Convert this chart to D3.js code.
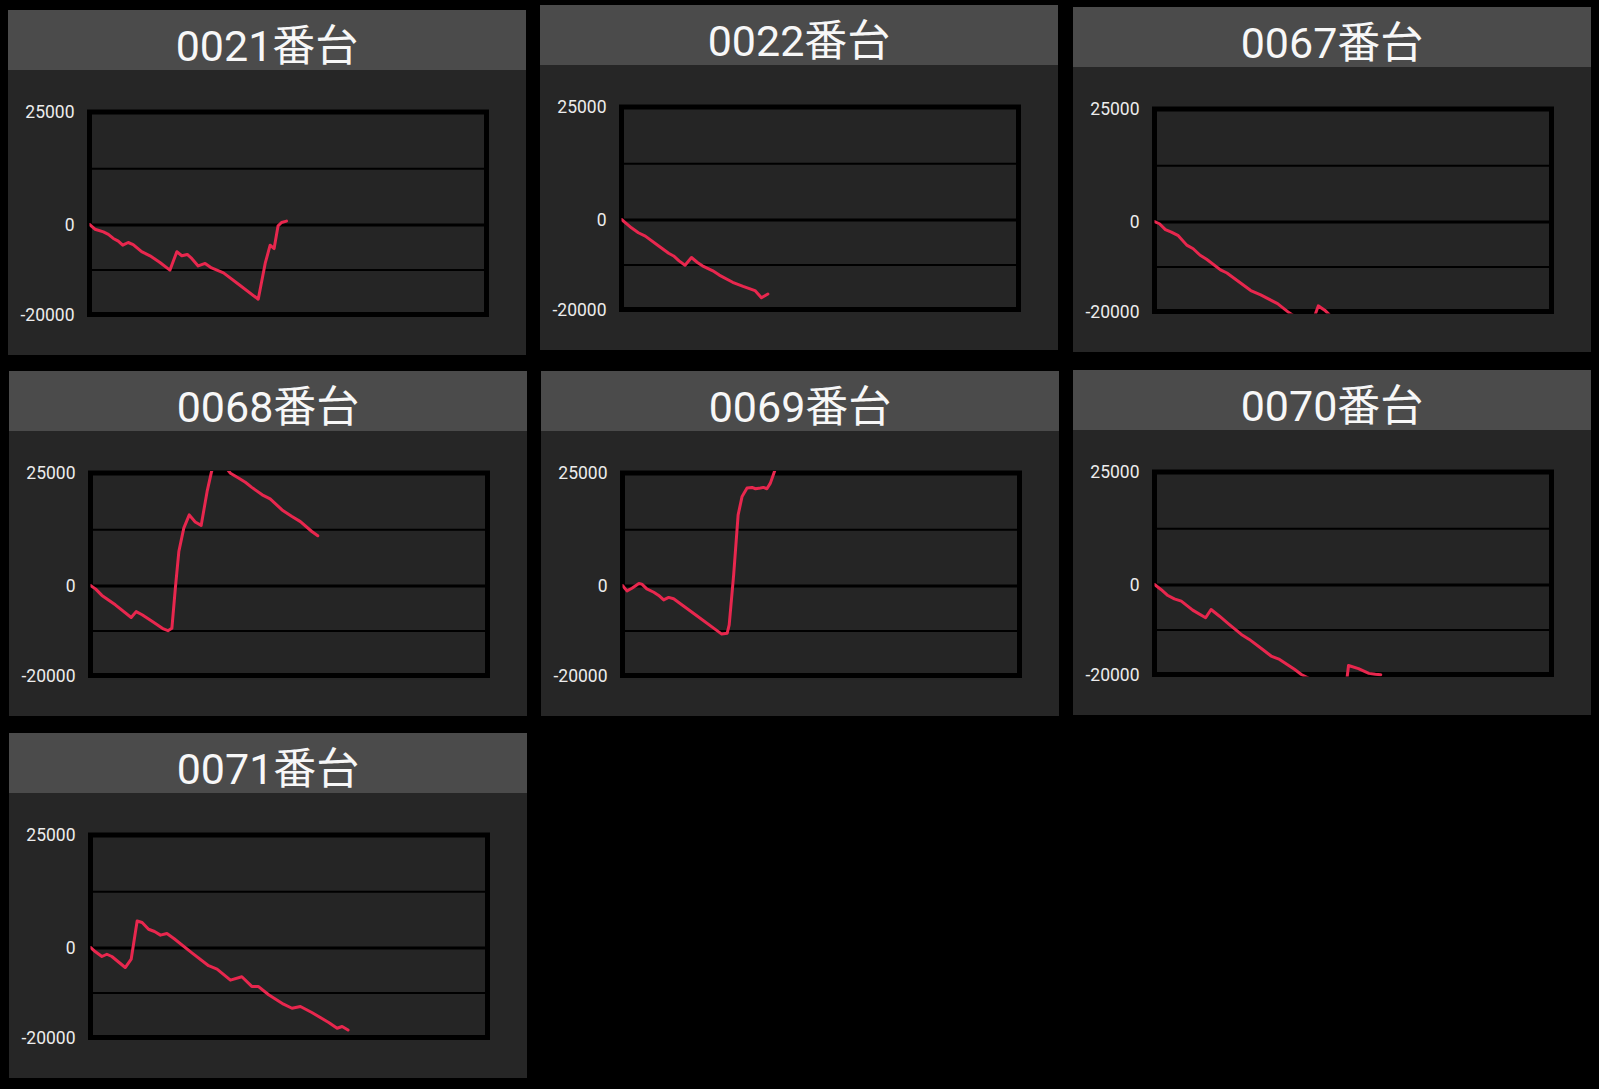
<!DOCTYPE html>
<html>
<head>
<meta charset="utf-8">
<script src="https://cdn.jsdelivr.net/npm/d3@7"></script>
<style>
  html, body { margin: 0; padding: 0; background: #000; }
  svg { display: block; }
</style>
</head>
<body>
<svg id="chart"></svg>
<script>
// machine names (one panel each)
const machines = ["0021番台", "0022番台", "0067番台", "0068番台", "0069番台", "0070番台", "0071番台"];

// games played (x) and medal difference (y)
const games0021 = [0, 110, 280, 380, 480, 580, 670, 780, 880, 1050, 1220, 1420, 1620, 1760, 1860, 1970, 2060, 2190, 2330, 2460, 2700, 3030, 3400, 3540, 3640, 3720, 3800, 3870, 3970];
const diff0021  = [0, -1050, -1650, -2200, -3100, -3700, -4600, -4000, -4450, -6050, -6950, -8450, -10150, -6050, -6950, -6650, -7550, -9200, -8650, -9650, -10750, -13500, -16600, -8650, -4600, -5350, -300, 450, 750];

const games0022 = [0, 200, 340, 480, 750, 950, 1050, 1160, 1280, 1410, 1530, 1630, 1840, 1970, 2240, 2450, 2690, 2820, 2950];
const diff0022  = [0, -1850, -2950, -3700, -5900, -7500, -8100, -9200, -10150, -8450, -9550, -10300, -11400, -12350, -13950, -14850, -15800, -17400, -16550];

const games0067 = [0, 100, 220, 340, 480, 650, 780, 920, 1050, 1330, 1460, 1940, 2140, 2480, 2690, 2950, 3180, 3300, 3430, 3520];
const diff0067  = [0, -500, -1800, -2350, -3150, -5250, -6050, -7500, -8400, -10750, -11450, -15350, -16300, -18250, -20100, -22000, -22500, -18750, -19700, -20700];

const games0068 = [0, 100, 230, 500, 820, 920, 1040, 1270, 1470, 1560, 1640, 1710, 1780, 1880, 1990, 2110, 2230, 2350, 2440, 2560, 2820, 2990, 3120, 3250, 3460, 3620, 3860, 4060, 4230, 4460, 4580];
const diff0068  = [0, -750, -2200, -4300, -7100, -5800, -6500, -8150, -9650, -10050, -9500, -600, 7550, 12750, 15700, 14100, 13350, 20900, 25350, 28500, 24950, 23850, 22950, 21800, 20150, 19250, 16800, 15350, 14200, 12000, 11050];

const games0069 = [0, 90, 190, 330, 390, 490, 630, 730, 830, 930, 1030, 1470, 2000, 2110, 2150, 2240, 2330, 2410, 2510, 2610, 2680, 2780, 2840, 2910, 2980, 3050, 3070];
const diff0069  = [0, -1200, -600, 450, 300, -750, -1500, -2200, -3200, -2650, -2950, -6500, -10800, -10600, -8750, 2350, 15700, 19800, 21650, 21800, 21500, 21650, 21800, 21500, 22750, 24950, 25600];

const games0070 = [0, 130, 270, 400, 540, 770, 1030, 1140, 1310, 1510, 1750, 1910, 2180, 2350, 2520, 2820, 2960, 3400, 3850, 3910, 4110, 4320, 4450, 4560];
const diff0070  = [0, -1100, -2450, -3200, -3700, -5700, -7400, -5550, -7050, -8900, -11100, -12200, -14450, -15900, -16650, -18850, -20000, -22500, -23500, -18000, -18700, -19750, -19950, -20050];

const games0071 = [0, 100, 230, 330, 430, 700, 820, 940, 1040, 1170, 1290, 1410, 1540, 1680, 2050, 2380, 2550, 2820, 3050, 3250, 3380, 3590, 3890, 4060, 4230, 4460, 4800, 4970, 5070, 5190];
const diff0071  = [0, -950, -2000, -1500, -2000, -4450, -2600, 5900, 5550, 4050, 3550, 2750, 3100, 2000, -1250, -4050, -4800, -7250, -6500, -8650, -8650, -10500, -12600, -13500, -13100, -14450, -16650, -17950, -17550, -18350];

// axis values
const yTicks = [25000, 0, -20000];
const yGrid = [12500, 0, -10000];
const yDomain = [-20000, 25000];
const xDomain = [0, 8000];

const allGames = [games0021, games0022, games0067, games0068, games0069, games0070, games0071];
const allDiffs = [diff0021, diff0022, diff0067, diff0068, diff0069, diff0070, diff0071];

// layout of the panels (screenshot grid is slightly uneven)
const panelPos = [[8, 10], [540, 5], [1073, 7], [9, 371], [541, 371], [1073, 370], [9, 733]];
const panelW = 518, panelH = 345, titleH = 60;
const margin = { top: 102, right: 39.5, bottom: 40.5, left: 81.5 };
const plotW = panelW - margin.left - margin.right;
const plotH = panelH - margin.top - margin.bottom;

const svg = d3.select("#chart")
  .attr("width", 1599)
  .attr("height", 1089);

svg.append("rect")
  .attr("width", 1599)
  .attr("height", 1089)
  .attr("fill", "#000");

const x = d3.scaleLinear().domain(xDomain).range([0, plotW]);
const y = d3.scaleLinear().domain(yDomain).range([plotH, 0]);

const line = d3.line()
  .x(d => x(d[0]))
  .y(d => y(d[1]));

machines.forEach((name, i) => {
  const [px, py] = panelPos[i];
  const data = allGames[i].map((g, j) => [g, allDiffs[i][j]]);

  const panel = svg.append("g")
    .attr("transform", "translate(" + px + "," + py + ")");

  panel.append("rect")
    .attr("width", panelW)
    .attr("height", panelH)
    .attr("fill", "#262626");

  panel.append("rect")
    .attr("width", panelW)
    .attr("height", titleH)
    .attr("fill", "#4b4b4b");

  panel.append("text")
    .attr("x", panelW / 2)
    .attr("y", 50.5)
    .attr("text-anchor", "middle")
    .style("font-family", "Roboto, 'Noto Sans CJK JP', sans-serif")
    .style("font-size", "43px")
    .attr("fill", "#f7f7f7")
    .text(name);

  const g = panel.append("g")
    .attr("transform", "translate(" + margin.left + "," + margin.top + ")");

  g.append("rect")
    .attr("width", plotW)
    .attr("height", plotH)
    .attr("fill", "#252525");

  // horizontal gridlines
  const grid = g.append("g")
    .call(d3.axisLeft(y).tickValues(yGrid).tickSize(-plotW).tickFormat(""));
  grid.select(".domain").remove();
  grid.selectAll(".tick line")
    .attr("stroke", "#000")
    .attr("stroke-width", d => d === 0 ? 3 : 2);

  // frame
  g.append("rect")
    .attr("width", plotW)
    .attr("height", plotH)
    .attr("fill", "none")
    .attr("stroke", "#000")
    .attr("stroke-width", 5);

  // y labels (plain hyphen for negatives, like the original)
  const yAxis = g.append("g")
    .call(d3.axisLeft(y).tickValues(yTicks).tickSize(0).tickPadding(15).tickFormat(d => String(d)));
  yAxis.select(".domain").remove();
  yAxis.selectAll("text")
    .attr("fill", "#ececec")
    .style("font-family", "Roboto, sans-serif")
    .style("font-size", "17.5px");

  const clipId = "clip" + i;
  g.append("clipPath")
    .attr("id", clipId)
    .append("rect")
    .attr("x", 0)
    .attr("y", -2)
    .attr("width", plotW)
    .attr("height", plotH + 4);

  g.append("path")
    .datum(data)
    .attr("clip-path", "url(#" + clipId + ")")
    .attr("fill", "none")
    .attr("stroke", "#e8274e")
    .attr("stroke-width", 3)
    .attr("stroke-linejoin", "round")
    .attr("stroke-linecap", "round")
    .attr("d", line);
});
</script>
</body>
</html>
